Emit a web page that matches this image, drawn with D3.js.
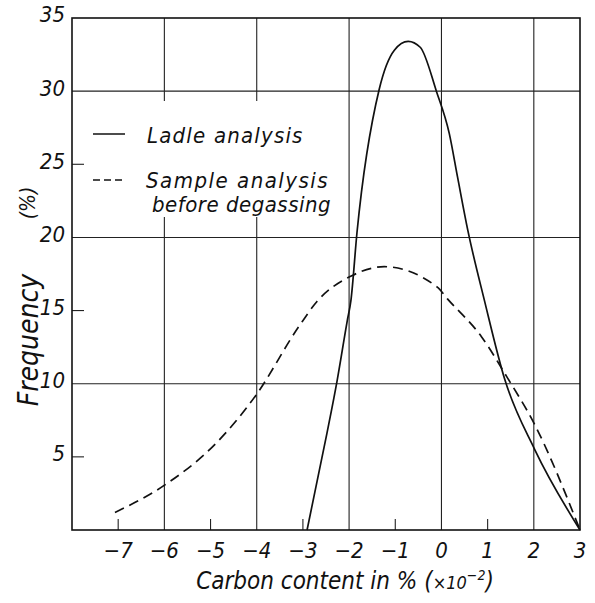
<!DOCTYPE html>
<html>
<head>
<meta charset="utf-8">
<script src="https://cdn.jsdelivr.net/npm/d3@7"></script>
<style>
 body{margin:0;background:#fff}
 text{font-family:"DejaVu Sans Condensed","DejaVu Sans",sans-serif;font-stretch:condensed;font-style:italic;fill:#111}
</style>
</head>
<body>
<svg id="chart" width="595" height="603"></svg>
<script>
// ---- data ----
var ladleX=[-2.91,-2.48,-2.26,-2.04,-1.96,-1.83,-1.35,-1.02,-0.72,-0.46,-0.11,0.17,0.35,0.57,0.93,1.37,2.02,3.0]
var ladleY=[0,6.6,10.2,14.3,15.7,20.3,30.1,32.8,33.4,33.0,30.0,27.1,24.1,20.5,15.7,10.3,5.5,0]
var sampleX=[-7.07,-5.98,-4.89,-4.02,-3.09,-2.7,-1.93,-1.24,-0.09,0.13,0.87,1.41,2.02,3.0]
var sampleY=[1.2,3.1,5.9,9.2,13.9,15.6,17.4,18.0,16.6,15.8,13.2,10.5,7.2,0]
var xTickVals=[-7,-6,-5,-4,-3,-2,-1,0,1,2,3]
var xGridVals=[-6,-4,-2,0,2]
var yTickVals=[5,10,15,20,25,30,35]
var yGridVals=[10,20,30]
var legendLabels=["Ladle analysis","Sample analysis","before degassing"]

var svg=d3.select("#chart")
var plotL=72, plotR=580, plotT=18, plotB=530

var xScale=d3.scaleLinear().domain([-8,3]).range([plotL,plotR])
var yScale=d3.scaleLinear().domain([0,35]).range([plotB,plotT])

// gridlines
var grid=svg.append("g").attr("stroke","#222").attr("stroke-width",1.1)
grid.selectAll(".vg").data(xGridVals).enter().append("line")
 .attr("x1",function(d){return xScale(d)}).attr("x2",function(d){return xScale(d)})
 .attr("y1",plotT).attr("y2",plotB)
grid.selectAll(".hg").data(yGridVals).enter().append("line")
 .attr("y1",function(d){return yScale(d)}).attr("y2",function(d){return yScale(d)})
 .attr("x1",plotL).attr("x2",plotR)

// short ticks
grid.selectAll(".xt").data(xTickVals.filter(function(d){return xGridVals.indexOf(d)<0 && d!=3})).enter().append("line")
 .attr("x1",function(d){return xScale(d)}).attr("x2",function(d){return xScale(d)})
 .attr("y1",plotB).attr("y2",plotB-11)
grid.selectAll(".yt").data(yTickVals.filter(function(d){return yGridVals.indexOf(d)<0 && d!=35})).enter().append("line")
 .attr("y1",function(d){return yScale(d)}).attr("y2",function(d){return yScale(d)})
 .attr("x1",plotL).attr("x2",plotL+12)

// legend clears the grid behind it
svg.append("rect").attr("x",84).attr("y",101).attr("width",250).attr("height",116).attr("fill","#fff")

// frame
svg.append("rect").attr("x",plotL).attr("y",plotT).attr("width",plotR-plotL).attr("height",plotB-plotT)
 .attr("fill","none").attr("stroke","#111").attr("stroke-width",1.6)

// tick labels
svg.selectAll(".xl").data(xTickVals).enter().append("text")
 .attr("x",function(d){return xScale(d)}).attr("y",plotB+28)
 .attr("text-anchor","middle").attr("font-size","22px")
 .text(function(d){return d<0?"\u2212"+Math.abs(d):d})
svg.selectAll(".yl").data(yTickVals).enter().append("text")
 .attr("x",plotL-7).attr("y",function(d){return yScale(d)})
 .attr("dy","0.2em").attr("text-anchor","end").attr("font-size","22px")
 .text(function(d){return d})

// curves
var line=d3.line()
 .x(function(d){return xScale(d[0])})
 .y(function(d){return yScale(d[1])})
 .curve(d3.curveMonotoneX)

svg.append("path").datum(d3.zip(ladleX,ladleY))
 .attr("fill","none").attr("stroke","#111").attr("stroke-width",1.7).attr("d",line)
svg.append("path").datum(d3.zip(sampleX,sampleY))
 .attr("fill","none").attr("stroke","#111").attr("stroke-width",1.7)
 .attr("stroke-dasharray","10,6").attr("d",line)

// legend
svg.append("line").attr("x1",93).attr("x2",125).attr("y1",134).attr("y2",134)
 .attr("stroke","#111").attr("stroke-width",1.5)
svg.append("line").attr("x1",93).attr("x2",125).attr("y1",180).attr("y2",180)
 .attr("stroke","#111").attr("stroke-width",1.5).attr("stroke-dasharray","7,4")
svg.append("text").attr("x",147).attr("y",143).attr("font-size","22px").attr("letter-spacing","1.2").text(legendLabels[0])
svg.append("text").attr("x",146).attr("y",188).attr("font-size","22px").attr("letter-spacing","1.5").text(legendLabels[1])
svg.append("text").attr("x",152).attr("y",212).attr("font-size","22px").attr("letter-spacing","0.5").text(legendLabels[2])

// axis titles
svg.append("text").attr("transform","translate(38,340)rotate(-90)")
 .attr("text-anchor","middle").attr("font-size","28px").text("Frequency")
svg.append("text").attr("transform","translate(35,203)rotate(-90)")
 .attr("text-anchor","middle").attr("font-size","21px").text("(%)")
var xt=svg.append("text").attr("x",345).attr("y",589).attr("text-anchor","middle").attr("font-size","24px")
xt.append("tspan").text("Carbon content in % (")
xt.append("tspan").attr("font-size","18px").text("\u00d710")
xt.append("tspan").attr("font-size","14px").attr("dy","-9").text("\u22122")
xt.append("tspan").attr("dy","9").text(")")
</script>
</body>
</html>
